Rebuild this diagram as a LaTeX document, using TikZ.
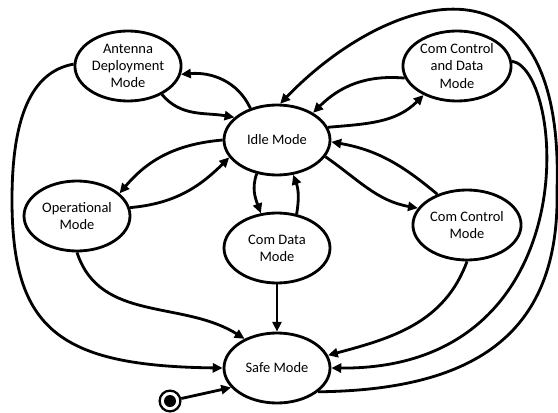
\documentclass[tikz,border=0pt]{standalone}
\usepackage{fontspec}
\setmainfont{Carlito}
\usepackage{tikz}
\usetikzlibrary{shapes.geometric,arrows.meta}

\tikzset{
  modenode/.style={ellipse, draw, line width=2pt, minimum width=2.65cm, minimum height=1.75cm,
    inner sep=1pt, align=center, font=\fontsize{10.3}{12.2}\selectfont},
  arr/.style={line width=2pt, -{Triangle[length=7pt,width=6.5pt]}},
  initstate/.style={circle, draw, line width=1.6pt, minimum size=0.52cm, inner sep=0pt,
    path picture={\fill (path picture bounding box.center) circle (0.15cm);}}
}

\begin{document}
\begin{tikzpicture}
  \useasboundingbox (0,0) rectangle (13.95,10.3);

  % Estados
  \node[modenode] (ant)  at (3.2,8.65)   {Antenna\\Deployment\\Mode};
  \node[modenode] (idle) at (6.925,6.8)  {Idle Mode};
  \node[modenode] (ccd)  at (11.425,8.65) {Com Control\\and Data\\Mode};
  \node[modenode] (op)   at (1.925,4.9)  {Operational\\Mode};
  \node[modenode] (cd)   at (6.925,4.1)  {Com Data\\Mode};
  \node[modenode] (cc)   at (11.675,4.675) {Com Control\\Mode};
  \node[modenode] (safe) at (6.925,1.1)  {Safe Mode};
  \node[initstate] (init) at (4.25,0.275) {};

  % Antenna <-> Idle
  \draw[arr] (ant.-40) to[out=-50,in=170] (idle.152);
  \draw[arr] (idle.130) to[out=115,in=5] (ant.-9);

  % Operational <-> Idle
  \draw[arr] (idle.180) to[out=185,in=50] (op.28);
  \draw[arr] (op.9) to[out=5,in=225] (idle.200);

  % Com Data <-> Idle
  \draw[arr] (idle.239) to[out=-110,in=110] (cd.115);
  \draw[arr] (cd.60) to[out=80,in=-70] (idle.-65);

  % Com Control <-> Idle
  \draw[arr] (idle.-19) to[out=-35,in=170] (cc.161);
  \draw[arr] (cc.134) to[out=140,in=-10] (idle.-2);

  % Com Control and Data <-> Idle
  \draw[arr] (idle.14) to[out=5,in=225] (ccd.221);
  \draw[arr] (ccd.193) to[out=175,in=45] (idle.37);

  % Hacia Safe Mode
  \draw[arr] (ant.178) .. controls (0.75,8.5) and (0.3,7.3) .. (0.3,5.3)
    .. controls (0.3,2.05) and (1.5,1.15) .. (safe.180);
  \draw[arr] (op.-90) to[out=-72,in=148] (safe.138);
  \draw[arr] (cd) -- (safe);
  \draw[arr] (cc.-90) to[out=-110,in=15] (safe.14);
  \draw[arr] (ccd.5) .. controls (14.125,8.55) and (14.75,1.05) .. (safe.0);
  \draw[arr] (init) -- (safe.203);

  % Safe -> Idle (lazo exterior)
  \draw[arr] (safe.-30) .. controls (12,0.55) and (14,2.05) .. (13.925,5.55)
    .. controls (14.125,11.8) and (9.75,10.55) .. (idle.85);

\end{tikzpicture}
\end{document}
